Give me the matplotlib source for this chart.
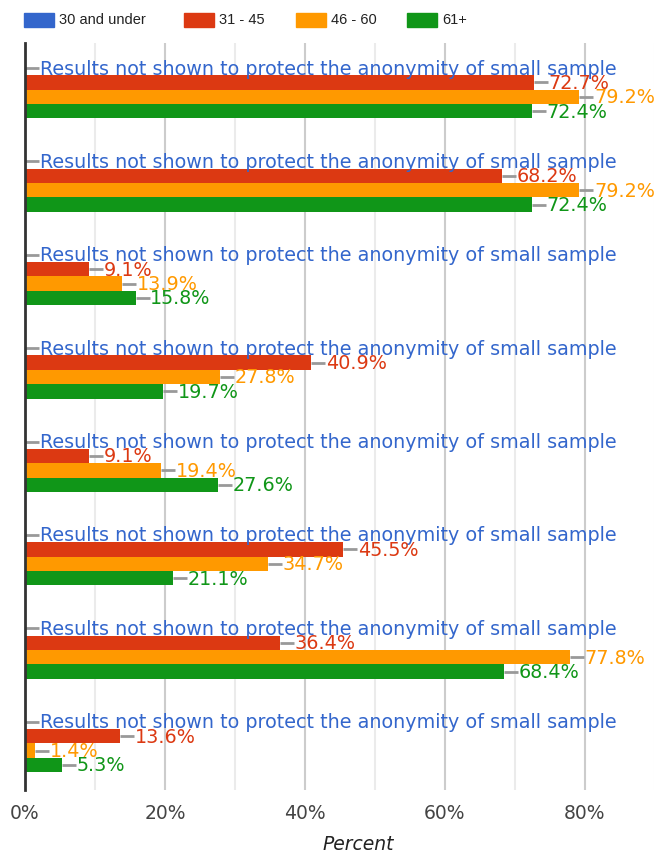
import numpy as np
import matplotlib.pyplot as plt
from matplotlib.patches import Rectangle

# age groups and values per question (8 questions, no labels shown)
groups = ['30 and under', '31 - 45', '46 - 60', '61+']
colors = ['#3366CC', '#DC3912', '#FF9900', '#109618']
v_31_45 = [72.7, 68.2, 9.1, 40.9, 9.1, 45.5, 36.4, 13.6]
v_46_60 = [79.2, 79.2, 13.9, 27.8, 19.4, 34.7, 77.8, 1.4]
v_61 = [72.4, 72.4, 15.8, 19.7, 27.6, 21.1, 68.4, 5.3]
hidden_msg = 'Results not shown to protect the anonymity of small sample'

n = len(v_31_45)
series = [[0.0] * n, v_31_45, v_46_60, v_61]

W, H = 654, 857
fig = plt.figure(figsize=(W / 100, H / 100), dpi=100)
left, right, top, bottom = 25, 691, 43, 790
ax = fig.add_axes([left / W, 1 - bottom / H, (right - left) / W, (bottom - top) / H])

px_per_pct = 7.0
ax.set_xlim(0, (right - left) / px_per_pct)
ax.set_ylim(n - 0.5, -0.5)

h = 0.154
lead = 2.0
y = np.arange(n)
for k, (vals, col) in enumerate(zip(series, colors)):
    yy = y + (k - 1.5) * h
    ax.barh(yy, vals, height=h, color=col, zorder=3)
    for yi, v in zip(yy, vals):
        ax.plot([v, v + lead], [yi, yi], color='#999999', lw=2, zorder=2, solid_capstyle='butt')
        txt = hidden_msg if k == 0 else f'{v:.1f}%'
        ax.text(v + lead + 0.1, yi + 0.01, txt, color=col, fontsize=13.8, va='center', ha='left', zorder=4)

# grid
for g in range(10, 100, 10):
    c = '#cccccc' if g % 20 == 0 else '#ebebeb'
    ax.axvline(g, color=c, lw=1.5, zorder=1)

ax.set_xticks([0, 20, 40, 60, 80])
ax.set_xticklabels(['0%', '20%', '40%', '60%', '80%'], fontsize=13.5, color='#444444')
ax.tick_params(axis='x', length=0, pad=10)
ax.set_yticks([])
for s in ['top', 'right', 'bottom']:
    ax.spines[s].set_visible(False)
ax.spines['left'].set_color('#333333')
ax.spines['left'].set_linewidth(2)
ax.spines['left'].set_zorder(5)
ax.set_xlabel('Percent', fontsize=13.5, style='italic', color='#222222', labelpad=9)

# legend
leg_x = [24, 184, 296, 407]
for lx, lab, col in zip(leg_x, groups, colors):
    fig.patches.append(Rectangle((lx / W, 1 - 27 / H), 30 / W, 14 / H,
                                 transform=fig.transFigure, color=col, figure=fig))
    fig.text((lx + 35) / W, 1 - 20 / H, lab, fontsize=10.5, color='#222222',
             va='center', ha='left', family=['Liberation Sans', 'DejaVu Sans'])

fig.savefig('out.png', dpi=100)
